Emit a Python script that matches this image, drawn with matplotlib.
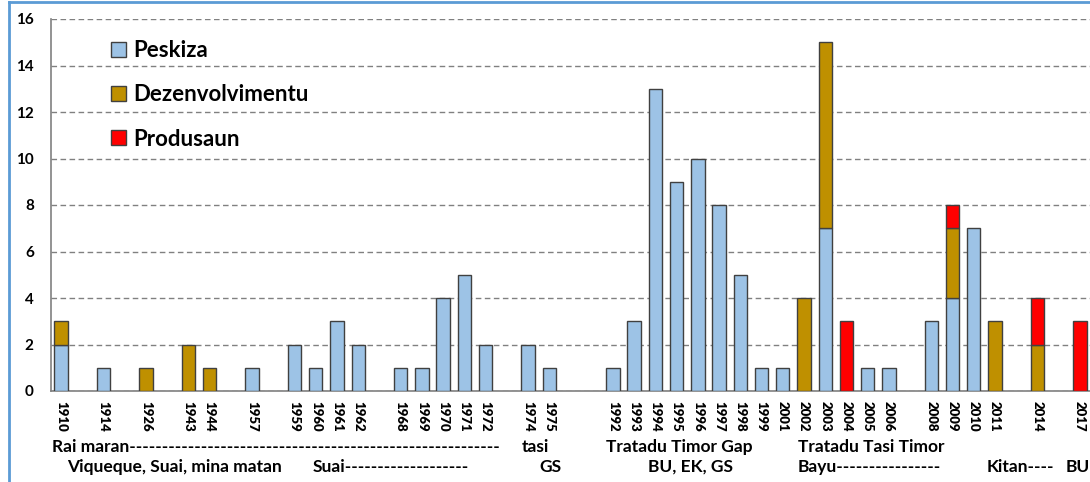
import matplotlib
matplotlib.use("Agg")
import matplotlib.pyplot as plt
from matplotlib.patches import Patch
from matplotlib.lines import Line2D

plt.rcParams['font.family'] = ['Lato', 'DejaVu Sans']

# Categories (empty strings are blank slots on the axis)
years = ["1910", "", "1914", "", "1926", "", "1943", "1944", "", "1957", "",
         "1959", "1960", "1961", "1962", "", "1968", "1969", "1970", "1971", "1972", "",
         "1974", "1975", "", "", "1992", "1993", "1994", "1995", "1996", "1997", "1998",
         "1999", "2001", "2002", "2003", "2004", "2005", "2006", "", "2008", "2009",
         "2010", "2011", "", "2014", "", "2017"]
peskiza = [2, 0, 1, 0, 0, 0, 0, 0, 0, 1, 0,
           2, 1, 3, 2, 0, 1, 1, 4, 5, 2, 0,
           2, 1, 0, 0, 1, 3, 13, 9, 10, 8, 5,
           1, 1, 0, 7, 0, 1, 1, 0, 3, 4,
           7, 0, 0, 0, 0, 0]
dezenvolvimentu = [1, 0, 0, 0, 1, 0, 2, 1, 0, 0, 0,
                   0, 0, 0, 0, 0, 0, 0, 0, 0, 0, 0,
                   0, 0, 0, 0, 0, 0, 0, 0, 0, 0, 0,
                   0, 0, 4, 8, 0, 0, 0, 0, 0, 3,
                   0, 3, 0, 2, 0, 0]
produsaun = [0, 0, 0, 0, 0, 0, 0, 0, 0, 0, 0,
             0, 0, 0, 0, 0, 0, 0, 0, 0, 0, 0,
             0, 0, 0, 0, 0, 0, 0, 0, 0, 0, 0,
             0, 0, 0, 0, 3, 0, 0, 0, 0, 1,
             0, 0, 0, 2, 0, 3]
series_names = ["Peskiza", "Dezenvolvimentu", "Produsaun"]
colors = ["#9DC3E6", "#BF9000", "#FF0000"]

row1_labels = ["Rai maran" + "-" * 57, "tasi", "Tratadu Timor Gap", "Tratadu Tasi Timor"]
row2_labels = ["Viqueque, Suai, mina matan", "Suai" + "-" * 19, "GS", "BU, EK, GS",
               "Bayu" + "-" * 16, "Kitan----", "BU"]

W, H = 1090, 482
fig = plt.figure(figsize=(W / 100, H / 100), dpi=100)
ax = fig.add_axes([50.5 / W, 91 / H, 1040 / W, 372 / H])

x = list(range(len(years)))
edge = "#404040"
bottom2 = [a + b for a, b in zip(peskiza, dezenvolvimentu)]
for vals, bot, c in [(peskiza, [0] * len(x), colors[0]),
                     (dezenvolvimentu, peskiza, colors[1]),
                     (produsaun, bottom2, colors[2])]:
    xs = [xi for xi, v in zip(x, vals) if v > 0]
    hs = [v for v in vals if v > 0]
    bs = [b for b, v in zip(bot, vals) if v > 0]
    ax.bar(xs, hs, bottom=bs, width=0.63, color=c, edgecolor=edge, linewidth=1.0, zorder=3)

ax.set_xlim(-0.5, len(years) - 0.5)
ax.set_ylim(0, 16)
ax.set_yticks(range(0, 17, 2))
ax.yaxis.grid(True, linestyle=(0, (4, 2.5)), color="#808080", linewidth=1.0)
ax.set_axisbelow(True)
for s in ["top", "right"]:
    ax.spines[s].set_visible(False)
ax.spines["left"].set_color("#808080")
ax.spines["bottom"].set_color("#808080")
ax.spines["left"].set_linewidth(1.2)
ax.spines["bottom"].set_linewidth(1.2)

ax.set_xticks(x)
ax.set_xticklabels(years, rotation=270, fontsize=9.5, fontweight="heavy")
ax.tick_params(axis="x", length=0, pad=7)
ax.tick_params(axis="y", length=0, pad=12, labelsize=11)
for t in ax.get_yticklabels():
    t.set_fontweight("bold")

handles = [Patch(facecolor=c, edgecolor=edge, linewidth=1.0) for c in colors]
ax.legend(handles, series_names, loc="upper left", bbox_to_anchor=(52 / 1040, 1 - 12 / 372),
          frameon=False, prop={"weight": "bold", "size": 16}, handlelength=0.65,
          handleheight=0.65, handletextpad=0.35, labelspacing=1.05, borderaxespad=0)

def fx(px):
    return px / W

def fy(py):
    return 1 - py / H

row1_x = [52, 522, 606, 798]
row2_x = [67, 313, 539, 648, 798, 987, 1066]
for lbl, px in zip(row1_labels, row1_x):
    fig.text(fx(px), fy(447), lbl, fontsize=12.5, fontweight="bold", va="center", ha="left")
for lbl, px in zip(row2_labels, row2_x):
    fig.text(fx(px), fy(467), lbl, fontsize=12.5, fontweight="bold", va="center", ha="left")

# Blue chart frame
fig.add_artist(Line2D([fx(8.5), fx(8.5)], [0, fy(2)], color="#5B9BD5", linewidth=2, transform=fig.transFigure))
fig.add_artist(Line2D([fx(8.5), 1], [fy(2), fy(2)], color="#5B9BD5", linewidth=2, transform=fig.transFigure))

fig.savefig("out.png", dpi=100)
